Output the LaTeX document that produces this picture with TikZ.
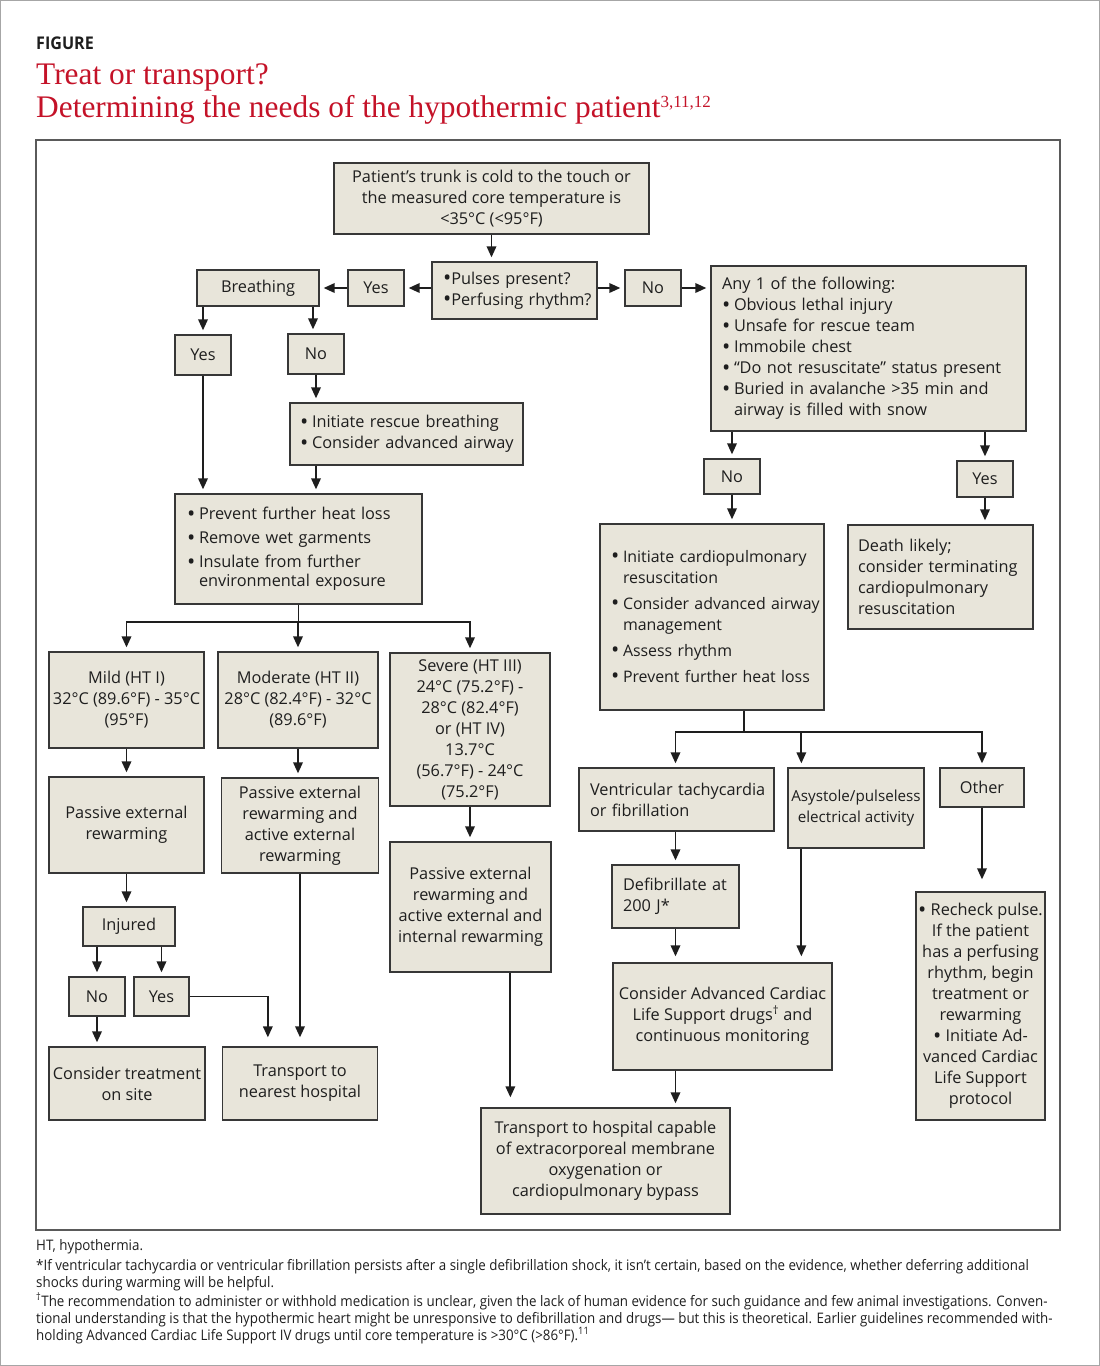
\documentclass[tikz,border=0pt]{standalone}
\usepackage{fontspec}
\setmainfont{Open Sans}
\newfontfamily\titlefont{Liberation Serif}
\newfontfamily\notefont{Open Sans}[FakeStretch=0.92]
\usetikzlibrary{arrows.meta}
\definecolor{boxfill}{RGB}{232,229,218}
\definecolor{boxline}{RGB}{55,55,55}
\definecolor{titlered}{RGB}{196,18,40}
\definecolor{ink}{RGB}{30,30,30}
\definecolor{framegray}{RGB}{90,90,90}
\newcommand\bdot{\raisebox{-1.6pt}{\fontsize{22}{22}\selectfont •}}
\newcommand\bul{\makebox[12pt][l]{\bdot}}
\newcommand\ind{\hspace*{12pt}}
\newcommand\lin[1]{\mbox{#1}}
\begin{document}
\begin{tikzpicture}[x=1pt,y=-1pt,
  box/.style={draw=boxline, line width=1.3pt, fill=boxfill, inner sep=0pt,
    text=ink, font=\fontsize{16.3}{21}\selectfont, align=center},
  lbox/.style={box, align=left},
  wh/.style 2 args={minimum width=#1pt, minimum height=#2pt},
  arr/.style={draw=ink, line width=1.8pt, -{Triangle[length=11pt,width=9.5pt]}, shorten >=4pt},
  lnk/.style={draw=ink, line width=1.8pt},
  note/.style={anchor=base west, inner sep=0pt, text=ink, font=\notefont\fontsize{14.5}{17}\selectfont},
  ttl/.style={anchor=base west, inner sep=0pt, text=titlered, font=\titlefont\fontsize{31.4}{31.4}\selectfont}]
\useasboundingbox (0,0) rectangle (1100,1366);
\draw[gray!70, line width=1pt] (0.5,0.5) rectangle (1099.5,1365.5);
\draw[framegray, line width=1.2pt] (36,140) rectangle (1060,1230);

% title
\node[anchor=base west, inner sep=0pt, text=ink, font=\notefont\bfseries\fontsize{17.5}{17.5}\selectfont] (figlabel) at (36,49) {FIGURE};
\node[ttl] (title1) at (36,84) {Treat or transport?};
\node[ttl] (title2) at (36,117) {Determining the needs of the hypothermic patient\raisebox{10pt}{\fontsize{17}{17}\selectfont 3,11,12}};

% boxes
\node[box, wh={315}{71}] (top) at (491.5,198.5) {Patient’s trunk is cold to the touch or\\ the measured core temperature is\\ <35°C (<95°F)};
\node[lbox, wh={165}{57}, text width=143pt] (pulses) at (514.5,290.5) {\lin{\bdot Pulses present?}\\ \lin{\bdot Perfusing rhythm?}};
\node[box, wh={56}{36}] (yest) at (376,288) {Yes};
\node[box, wh={122}{36}] (breath) at (258,288) {Breathing};
\node[box, wh={56}{36}] (not) at (653,288) {No};
\node[lbox, wh={315}{165}, text width=293pt] (any) at (868.5,348.5) {\lin{Any 1 of the following:}\\ \lin{\bul Obvious lethal injury}\\ \lin{\bul Unsafe for rescue team}\\ \lin{\bul Immobile chest}\\ \lin{\bul “Do not resuscitate” status present}\\ \lin{\bul Buried in avalanche >35 min and}\\ \lin{\ind airway is filled with snow}};
\node[box, wh={56}{40}] (yesb) at (203,355) {Yes};
\node[box, wh={56}{40}] (nob) at (316,354) {No};
\node[lbox, wh={233}{62}, text width=213pt] (init) at (406.5,434) {\lin{\bul Initiate rescue breathing}\\ \lin{\bul Consider advanced airway}};
\node[lbox, wh={247}{110}, text width=223pt, font=\fontsize{16.3}{19}\selectfont] (prevent) at (298.5,549) {\lin{\bul Prevent further heat loss}\\[5pt] \lin{\bul Remove wet garments}\\[5pt] \lin{\bul Insulate from further}\\ \lin{\ind environmental exposure}};
\node[box, wh={56}{35}] (no2) at (732,476.5) {No};
\node[box, wh={56}{36}] (yes2) at (985,479) {Yes};
\node[lbox, wh={224}{186}, text width=202pt, font=\fontsize{15.9}{21}\selectfont] (cpr) at (712,617) {\lin{\bul Initiate cardiopulmonary}\\ \lin{\ind resuscitation}\\[5pt] \lin{\bul Consider advanced airway}\\ \lin{\ind management}\\[5pt] \lin{\bul Assess rhythm}\\[5pt] \lin{\bul Prevent further heat loss}};
\node[lbox, wh={185}{104}, text width=165pt] (death) at (940.5,577) {\lin{Death likely;}\\ \lin{consider terminating}\\ \lin{cardiopulmonary}\\ \lin{resuscitation}};
\node[box, wh={155}{96}] (mild) at (126.5,700) {Mild (HT I)\\ 32°C (89.6°F) - 35°C\\ (95°F)};
\node[box, wh={160}{96}] (mod) at (298,700) {Moderate (HT II)\\ 28°C (82.4°F) - 32°C\\ (89.6°F)};
\node[box, wh={160}{153}] (sev) at (470,729.5) {Severe (HT III)\\ 24°C (75.2°F) -\\ 28°C (82.4°F)\\ or (HT IV)\\ 13.7°C\\ (56.7°F) - 24°C\\ (75.2°F)};
\node[box, wh={155}{96}] (mildp) at (126.5,825) {Passive external\\ rewarming};
\node[box, wh={157}{95}] (modp) at (300,825.5) {Passive external\\ rewarming and\\ active external\\ rewarming};
\node[box, wh={161}{130}] (sevp) at (470.5,907) {Passive external\\ rewarming and\\ active external and\\ internal rewarming};
\node[box, wh={92}{39}] (inj) at (129,926.5) {Injured};
\node[box, wh={56}{39}] (noi) at (97,996.5) {No};
\node[box, wh={55}{39}] (yesi) at (161.5,996.5) {Yes};
\node[box, wh={156}{73}] (cons) at (127,1083.5) {Consider treatment\\ on site};
\node[box, wh={155}{73}] (tnear) at (300,1083.5) {Transport to\\ nearest hospital};
\node[lbox, wh={195}{63}, text width=173pt] (vt) at (676.5,799.5) {\lin{Ventricular tachycardia}\\ \lin{or fibrillation}};
\node[box, wh={136}{80}, font=\fontsize{15.2}{21}\selectfont] (asys) at (856,808) {Asystole/pulseless\\ electrical activity};
\node[box, wh={84}{39}] (other) at (982,787.5) {Other};
\node[lbox, wh={127}{63}, text width=105pt] (defib) at (675.5,896.5) {\lin{Defibrillate at}\\ \lin{200 J*}};
\node[box, wh={219}{107}] (acls) at (722.5,1016.5) {Consider Advanced Cardiac\\ Life Support drugs\textsuperscript{†} and\\ continuous monitoring};
\node[box, wh={249}{106}] (ecmo) at (605.5,1161) {Transport to hospital capable\\ of extracorporeal membrane\\ oxygenation or\\ cardiopulmonary bypass};
\node[box, wh={129}{228}] (recheck) at (980.5,1006) {\bdot{} Recheck pulse.\\ If the patient\\ has a perfusing\\ rhythm, begin\\ treatment or\\ rewarming\\ \bdot{} Initiate Ad-\\ vanced Cardiac\\ Life Support\\ protocol};

% connectors, top part
\draw[arr] (top.south) -- (top.south |- pulses.north);
\draw[arr] (pulses.west |- yest.east) -- (yest.east);
\draw[arr] (yest.west) -- (breath.east);
\draw[arr] (pulses.east |- not.west) -- (not.west);
\draw[arr] (not.east) -- (not.east -| any.west);
\draw[arr] (yesb.north |- breath.south) -- (yesb.north);
\draw[arr] ([xshift=-3pt]nob.north |- breath.south) -- ([xshift=-3pt]nob.north);
\draw[arr] (nob.south) -- (nob.south |- init.north);
\draw[arr] (yesb.south) -- (yesb.south |- prevent.north);
\draw[arr] (nob.south |- init.south) -- (nob.south |- prevent.north);

% split to severity
\path (prevent.south) ++(0,17) coordinate (s1);
\draw[lnk] (prevent.south) -- (s1);
\draw[lnk, line cap=rect] (mild.north |- s1) -- (sev.north |- s1);
\draw[arr] (mild.north |- s1) -- (mild.north);
\draw[arr] (mod.north |- s1) -- (mod.north);
\draw[arr] (sev.north |- s1) -- (sev.north);

\draw[arr] (mild.south) -- (mildp.north);
\draw[arr] (mod.south) -- (mod.south |- modp.north);
\draw[arr] (sev.south) -- (sev.south |- sevp.north);
\draw[arr] (mildp.south) -- (mildp.south |- inj.north);
\draw[arr] (noi.north |- inj.south) -- (noi.north);
\draw[arr] (yesi.north |- inj.south) -- (yesi.north);
\draw[arr] (noi.south) -- (noi.south |- cons.north);
\draw[arr, shorten >=9pt] (yesi.east) -| ([xshift=46pt]tnear.north west);
\draw[arr, shorten >=9pt] (modp.south) -- (tnear.north);
\coordinate (ce) at ([xshift=30pt]ecmo.north west);
\draw[arr, shorten >=10pt] (ce |- sevp.south) -- (ce);

% right side
\draw[arr] (no2.north |- any.south) -- (no2.north);
\draw[arr] (yes2.north |- any.south) -- (yes2.north);
\draw[arr] (no2.south) -- (no2.south |- cpr.north);
\draw[arr] (yes2.south) -- (yes2.south |- death.north);

\path ([xshift=32pt]cpr.south) ++(0,21) coordinate (s2);
\coordinate (cb) at ([xshift=14pt]asys.south west);
\draw[lnk] ([xshift=32pt]cpr.south) -- (s2);
\draw[lnk, line cap=rect] (defib.north |- s2) -- (other.north |- s2);
\draw[arr] (defib.north |- s2) -- (defib.north |- vt.north);
\draw[arr] (cb |- s2) -- (cb |- asys.north);
\draw[arr] (other.north |- s2) -- (other.north);

\draw[arr] (defib.north |- vt.south) -- (defib.north);
\draw[arr, shorten >=6pt] (defib.south) -- (defib.south |- acls.north);
\draw[arr, shorten >=6pt] (cb) -- (cb |- acls.north);
\draw[arr] (defib.south |- acls.south) -- (defib.south |- ecmo.north);
\draw[arr, shorten >=12pt] (other.south) -- (other.south |- recheck.north);

% footnotes
\node[note] (n1) at (36,1250) {HT, hypothermia.};
\node[note] (n2) at (36,1270) {*If ventricular tachycardia or ventricular fibrillation persists after a single defibrillation shock, it isn’t certain, based on the evidence, whether deferring additional};
\node[note] (n3) at (36,1287) {shocks during warming will be helpful.};
\node[note] (n4) at (36,1306) {\textsuperscript{†}The recommendation to administer or withhold medication is unclear, given the lack of human evidence for such guidance and few animal investigations. Conven-};
\node[note] (n5) at (36,1323) {tional understanding is that the hypothermic heart might be unresponsive to defibrillation and drugs— but this is theoretical. Earlier guidelines recommended with-};
\node[note] (n6) at (36,1340) {holding Advanced Cardiac Life Support IV drugs until core temperature is >30°C (>86°F).\textsuperscript{11}};
\end{tikzpicture}
\end{document}
